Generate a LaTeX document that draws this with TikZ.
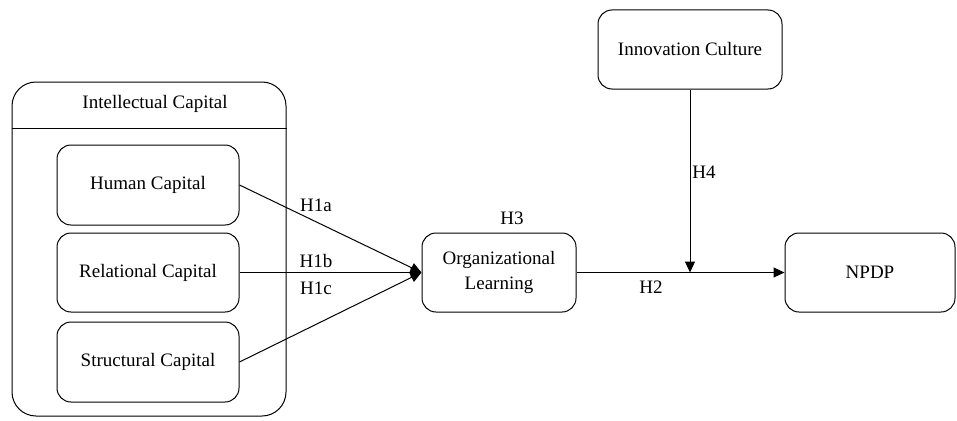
\documentclass[tikz,border=0pt]{standalone}
\usepackage{fontspec}
\setmainfont{Liberation Serif}
\usetikzlibrary{arrows.meta}
\begin{document}
\begin{tikzpicture}[x=1pt,y=-1pt,
  every node/.style={font=\fontsize{19}{25}\selectfont},
  box/.style={draw,line width=1pt,rounded corners=14pt,align=center,inner sep=0pt},
  conn/.style={line width=1pt,-{Triangle[length=11pt,width=10pt]}},
  lbl/.style={inner sep=0pt}]
\useasboundingbox (0,0) rectangle (957,420);
% outer container
\node[box,rounded corners=24pt,minimum width=274pt,minimum height=334pt] (ic) at (149,249) {};
\node[lbl] (ictitle) at (155,104) {Intellectual Capital};
\draw[line width=1pt] (ic.west |- 0,128) coordinate (hl) -- (ic.east |- 0,128) coordinate (hr);
% inner boxes
\node[box,minimum width=182pt,minimum height=80pt] (hc) at (148,185) {Human Capital};
\node[box,minimum width=182pt,minimum height=79pt] (rc) at (148,272.5) {Relational Capital};
\node[box,minimum width=182pt,minimum height=80pt] (sc) at (148,362) {Structural Capital};
% other boxes
\node[box,minimum width=154pt,minimum height=79pt] (ol) at (499,272.5) {Organizational\\Learning};
\node[box,minimum width=184pt,minimum height=79pt] (cu) at (690,49.5) {Innovation Culture};
\node[box,minimum width=170pt,minimum height=79pt] (np) at (870,272.5) {NPDP};
% connectors
\draw[conn] (hc.east) -- (ol.west);
\draw[conn] (rc.east) -- (ol.west);
\draw[conn] (sc.east) -- (ol.west);
\draw[conn] (ol.east) -- (np.west);
\coordinate (j) at (cu.south |- ol.east);
\draw[conn] (cu.south) -- (j);
% labels
\node[lbl] (h1a) at (316,205) {H1a};
\node[lbl] (h1b) at (316,261) {H1b};
\node[lbl] (h1c) at (316,288) {H1c};
\node[lbl] (h3) at (512,218) {H3};
\node[lbl] (h4) at (704,172) {H4};
\node[lbl] (h2) at (651,287) {H2};
\end{tikzpicture}
\end{document}
